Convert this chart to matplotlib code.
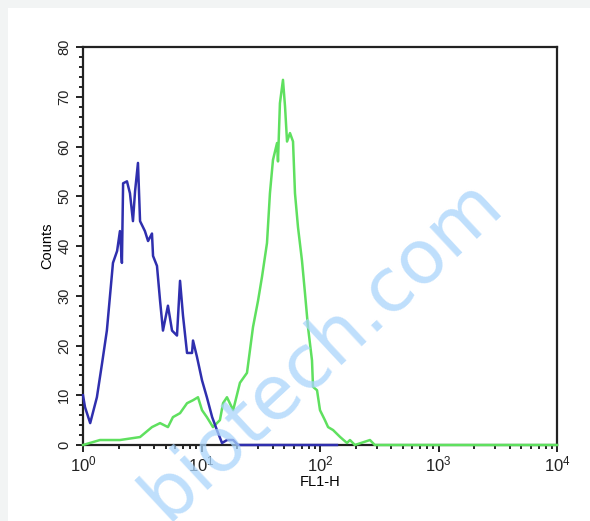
import matplotlib
matplotlib.use('Agg')
import matplotlib.pyplot as plt
from matplotlib.ticker import LogLocator, MultipleLocator, NullFormatter
import numpy as np

plt.rcParams['font.family'] = ['Liberation Sans', 'DejaVu Sans']

# control (blue) histogram, FL1-H vs counts
blue_x = [1.0, 1.04, 1.15, 1.31, 1.45, 1.59, 1.69, 1.79, 1.94, 2.05, 2.13, 2.18, 2.35, 2.49,
          2.64, 2.75, 2.91, 3.03, 3.33, 3.54, 3.82, 3.90, 4.21, 4.47, 4.73, 5.21, 5.64,
          6.21, 6.59, 6.98, 7.55, 8.32, 8.48, 9.16, 10.1, 11.1, 12.3, 13.5, 14.9, 16.4,
          18.5, 20.3, 139]
blue_y = [10, 7.6, 4.4, 9.6, 16.5, 23, 30, 36.6, 39, 43, 36.6, 52.6, 53, 50.6,
          45, 51, 56.7, 45, 43, 41, 42.5, 38, 36, 29, 23, 28, 23,
          22, 33, 26, 18.5, 18.5, 21, 17.7, 13, 9.6, 5.6, 3, 0.4, 1,
          1, 0, 0]

# stained sample (green) histogram
green_x = [1.0, 1.39, 2.05, 3.03, 3.82, 4.47, 5.21, 5.74, 6.59, 7.55, 8.48, 9.34, 10.1,
           11.1, 12.5, 13.5, 14.3, 15.2, 16.4, 18.5, 21.1, 24.2, 27.2, 30.0, 32.4, 35.7,
           37.8, 40.1, 43.4, 44.2, 45.9, 48.7, 50.7, 52.7, 55.8, 59.2, 61.5, 65.2, 70.5,
           74.7, 79.2, 85.6, 87.3, 94.4, 100, 110, 117, 129, 148, 169, 179, 197, 264,
           290, 10000]
green_y = [0, 1, 1, 1.6, 3.6, 4.4, 3.6, 5.6, 6.4, 8.4, 9, 9.6, 7,
           5.6, 3.6, 4.4, 5, 8.4, 9.6, 7, 12.5, 14.5, 23.7, 29, 33.8, 40.6,
           50.6, 57.3, 60.7, 57, 68.7, 73.4, 68, 61, 62.7, 61, 50.6, 43.8, 37,
           30.5, 23.7, 17, 11.7, 11, 7, 5, 3.6, 3, 1.6, 0.4, 1, 0, 1,
           0, 0]

fig = plt.figure(figsize=(5.9, 5.21), dpi=100)
fig.patch.set_facecolor('#f2f4f4')
fig.patches.append(plt.Rectangle((8 / 590, 0), 1, 1 - 8 / 521, transform=fig.transFigure,
                                 facecolor='white', edgecolor='none', zorder=-10))

ax = fig.add_axes([83 / 590, 76 / 521, 474 / 590, 398 / 521])
ax.patch.set_alpha(0)
ax.plot(green_x, green_y, color='#5fe05f', lw=1.8, zorder=3, clip_on=False)
ax.plot(blue_x, blue_y, color='#2f2fae', lw=1.8, zorder=3, clip_on=False)

ax.set_xscale('log')
ax.set_xlim(1, 10000)
ax.set_ylim(0, 80)
ax.yaxis.set_major_locator(MultipleLocator(10))
ax.yaxis.set_minor_locator(MultipleLocator(2))
ax.xaxis.set_major_locator(LogLocator(base=10))
ax.xaxis.set_minor_locator(LogLocator(base=10, subs=np.arange(2, 10)))
ax.xaxis.set_minor_formatter(NullFormatter())
ax.tick_params(axis='both', which='major', direction='out', length=5, width=1.4,
               labelsize=10.5, colors='#222222')
ax.tick_params(axis='x', which='major', labelsize=12, pad=2)
ax.tick_params(axis='both', which='minor', direction='out', length=3, width=1.2)
for lbl in ax.get_yticklabels():
    lbl.set_rotation(90)
    lbl.set_va('center')
for s in ax.spines.values():
    s.set_linewidth(1.6)
    s.set_color('#222222')

ax.set_xlabel('FL1-H', fontsize=10.5, labelpad=0)
ax.set_ylabel('Counts', fontsize=10.5, labelpad=2)

# watermark
fig.text(322 / 590, 1 - 350 / 521, 'biotech.com', fontsize=54, color='#a9d4fb',
         alpha=0.75, rotation=43, ha='center', va='center', family='DejaVu Sans')

fig.savefig('out.png', dpi=100)
